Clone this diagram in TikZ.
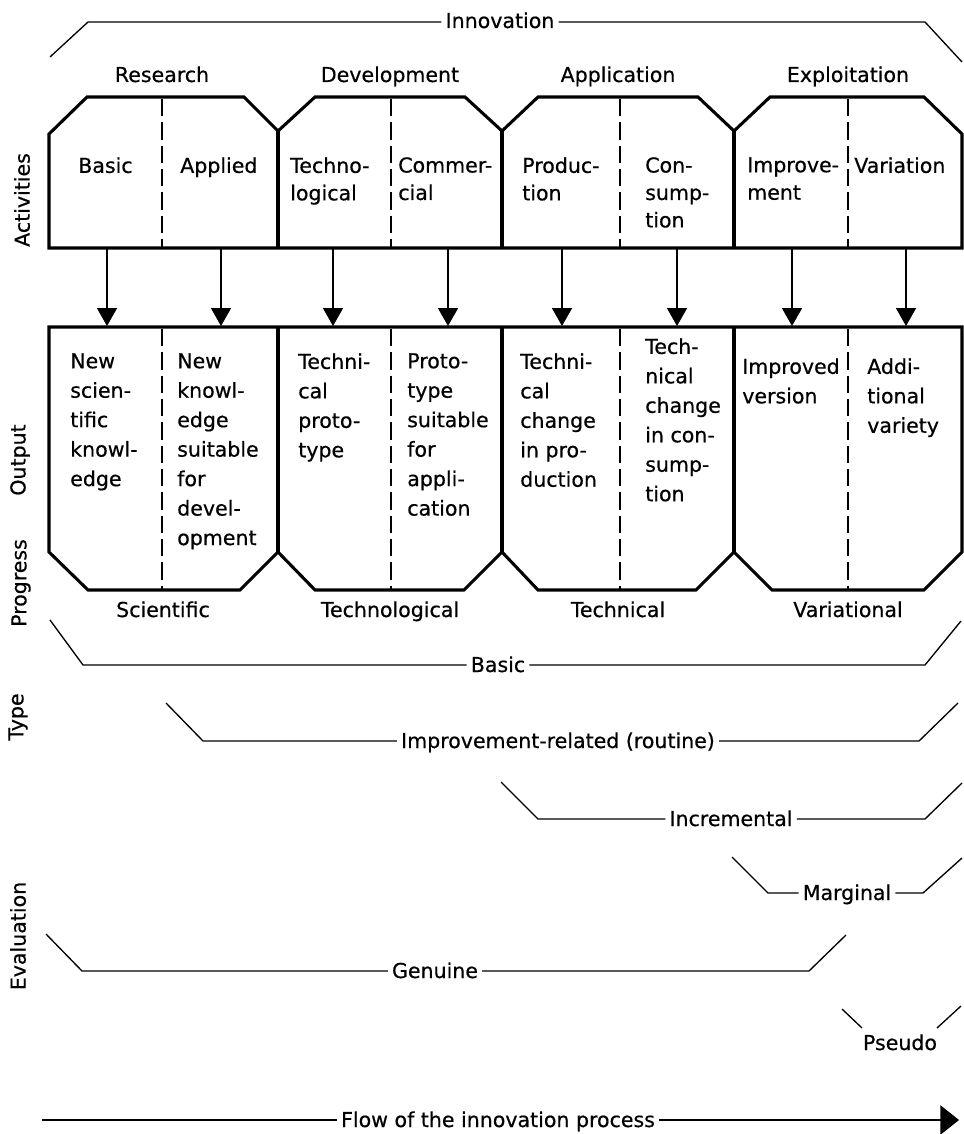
\documentclass[tikz,border=0pt]{standalone}
\usepackage{fontspec}
\setmainfont{DejaVu Sans}[BoldFont=DejaVu Sans, BoldFeatures={FakeBold=0.5}]
\usetikzlibrary{arrows.meta}

\begin{document}
\begin{tikzpicture}[x=0.75pt,y=-0.75pt,
  every node/.style={inner sep=0pt, font=\fontsize{15.4}{20.6}\selectfont\bfseries},
  frame/.style={line width=2.3pt, line join=miter},
  divider/.style={line width=0.9pt, dash pattern=on 13pt off 4.5pt},
  rule/.style={line width=1pt},
  down/.style={line width=1.2pt, -{Triangle[length=13.5pt,width=15pt]}},
  flow/.style={line width=1.2pt, -{Triangle[length=14pt,width=22pt]}},
  acttext/.style={anchor=north west, align=left, font=\fontsize{15.4}{20.6}\selectfont\bfseries},
  outtext/.style={anchor=north west, align=left, font=\fontsize{15.4}{22.1}\selectfont\bfseries},
  headlabel/.style={anchor=base},
  bracketlabel/.style={anchor=base, inner xsep=3pt},
  sidelabel/.style={rotate=90},
]
\useasboundingbox (0,0) rectangle (963,1134);

% ---------- overall bracket ----------
\node[bracketlabel] (innov) at (500,28) {Innovation};
\coordinate (innL0) at (50,57);  \coordinate (innL1) at (88,22);
\coordinate (innR1) at (925,22); \coordinate (innR0) at (962,62);
\draw[rule] (innL0) -- (innL1) -- (innov.west |- innL1);
\draw[rule] (innov.east |- innR1) -- (innR1) -- (innR0);

% ---------- phase headings ----------
\node[headlabel] (research) at (162,82) {Research};
\node[headlabel] (development) at (390,82) {Development};
\node[headlabel] (application) at (618,82) {Application};
\node[headlabel] (exploitation) at (848,82) {Exploitation};

% ---------- activities boxes ----------
\draw[frame] (49,248) -- (49,134) -- (87,97) -- (244,97) -- (278,131) -- (315,97)
  -- (465,97) -- (502,131) -- (538,97) -- (698,97) -- (734,131) -- (770,97)
  -- (924,97) -- (962,134) -- (962,248) -- cycle;
\draw[frame] (278,131) -- (278,248) (502,131) -- (502,248) (734,131) -- (734,248);
\foreach \x in {162,391,620,848} \draw[divider] (\x,99) -- (\x,247);

\node[acttext] (basic) at (78,157) {Basic};
\node[acttext] (applied) at (180,157) {Applied};
\node[acttext] (techno) at (290,157) {Techno-\\logical};
\node[acttext] (commer) at (398,157) {Commer-\\cial};
\node[acttext] (produc) at (522,157) {Produc-\\tion};
\node[acttext] (consum) at (645,157) {Con-\\sump-\\tion};
\node[acttext] (improve) at (747,157) {Improve-\\ment};
\node[acttext] (variation) at (854,157) {Variation};

% ---------- arrows from activities to output ----------
\foreach \x [count=\i] in {107,221,333,448,562,677,792,906} {
  \coordinate (act\i) at (\x,249);
  \coordinate (out\i) at (\x,326);
  \draw[down] (act\i) -- (out\i);
}

% ---------- output boxes ----------
\draw[frame] (49,327) -- (962,327) -- (962,552) -- (924,590) -- (772,590) -- (734,552)
  -- (696,590) -- (538,590) -- (502,552) -- (464,590) -- (315,590) -- (278,552)
  -- (240,590) -- (88,590) -- (49,552) -- cycle;
\draw[frame] (278,327) -- (278,552) (502,327) -- (502,552) (734,327) -- (734,552);
\foreach \x in {162,391,620,848} \draw[divider] (\x,329) -- (\x,589);

\node[outtext] (o1) at (70,353) {New\\scien-\\tific\\knowl-\\edge};
\node[outtext] (o2) at (177,353) {New\\knowl-\\edge\\suitable\\for\\devel-\\opment};
\node[outtext] (o3) at (298,353) {Techni-\\cal\\proto-\\type};
\node[outtext] (o4) at (407,353) {Proto-\\type\\suitable\\for\\appli-\\cation};
\node[outtext] (o5) at (520,353) {Techni-\\cal\\change\\in pro-\\duction};
\node[outtext] (o6) at (645,338) {Tech-\\nical\\change\\in con-\\sump-\\tion};
\node[outtext] (o7) at (742,358) {Improved\\version};
\node[outtext] (o8) at (867,358) {Addi-\\tional\\variety};

% ---------- kinds of progress ----------
\node[headlabel] (scientific) at (163,617) {Scientific};
\node[headlabel] (technological) at (390,617) {Technological};
\node[headlabel] (technical) at (618,617) {Technical};
\node[headlabel] (variational) at (848,617) {Variational};

% ---------- type brackets ----------
\node[bracketlabel] (basicT) at (498,672) {Basic};
\coordinate (bL0) at (50,620);  \coordinate (bL1) at (83,665);
\coordinate (bR1) at (925,665); \coordinate (bR0) at (961,621);
\draw[rule] (bL0) -- (bL1) -- (basicT.west |- bL1);
\draw[rule] (basicT.east |- bR1) -- (bR1) -- (bR0);

\node[bracketlabel] (routine) at (558,748) {Improvement-related (routine)};
\coordinate (rL0) at (166,703); \coordinate (rL1) at (203,741);
\coordinate (rR1) at (919,741); \coordinate (rR0) at (958,703);
\draw[rule] (rL0) -- (rL1) -- (routine.west |- rL1);
\draw[rule] (routine.east |- rR1) -- (rR1) -- (rR0);

\node[bracketlabel] (incr) at (731,826) {Incremental};
\coordinate (cL0) at (501,782); \coordinate (cL1) at (538,819);
\coordinate (cR1) at (925,819); \coordinate (cR0) at (962,783);
\draw[rule] (cL0) -- (cL1) -- (incr.west |- cL1);
\draw[rule] (incr.east |- cR1) -- (cR1) -- (cR0);

\node[bracketlabel] (marg) at (847,900) {Marginal};
\coordinate (mL0) at (732,857); \coordinate (mL1) at (768,893);
\coordinate (mR1) at (923,893); \coordinate (mR0) at (962,858);
\draw[rule] (mL0) -- (mL1) -- (marg.west |- mL1);
\draw[rule] (marg.east |- mR1) -- (mR1) -- (mR0);

% ---------- evaluation brackets ----------
\node[bracketlabel] (genuine) at (435,978) {Genuine};
\coordinate (gL0) at (46,934);  \coordinate (gL1) at (82,971);
\coordinate (gR1) at (809,971); \coordinate (gR0) at (846,935);
\draw[rule] (gL0) -- (gL1) -- (genuine.west |- gL1);
\draw[rule] (genuine.east |- gR1) -- (gR1) -- (gR0);

\node[headlabel] (pseudo) at (900,1050) {Pseudo};
\coordinate (pL0) at (842,1009); \coordinate (pL1) at (862,1028);
\coordinate (pR0) at (961,1006); \coordinate (pR1) at (937,1028);
\draw[rule] (pL0) -- (pL1);
\draw[rule] (pR0) -- (pR1);

% ---------- direction of the process ----------
\node[bracketlabel] (flowtext) at (498,1127) {Flow of the innovation process};
\coordinate (fL) at (42,1120); \coordinate (fR) at (959,1120);
\draw[rule, line width=1.2pt] (fL) -- (flowtext.west |- fL);
\draw[flow] (flowtext.east |- fR) -- (fR);

% ---------- row captions ----------
\node[sidelabel] (capAct) at (22,200) {Activities};
\node[sidelabel] (capOut) at (20,460) {Output};
\node[sidelabel] (capProg) at (21,583) {Progress};
\node[sidelabel] (capType) at (18,717) {Type};
\node[sidelabel] (capEval) at (18,936) {Evaluation};
\end{tikzpicture}
\end{document}
